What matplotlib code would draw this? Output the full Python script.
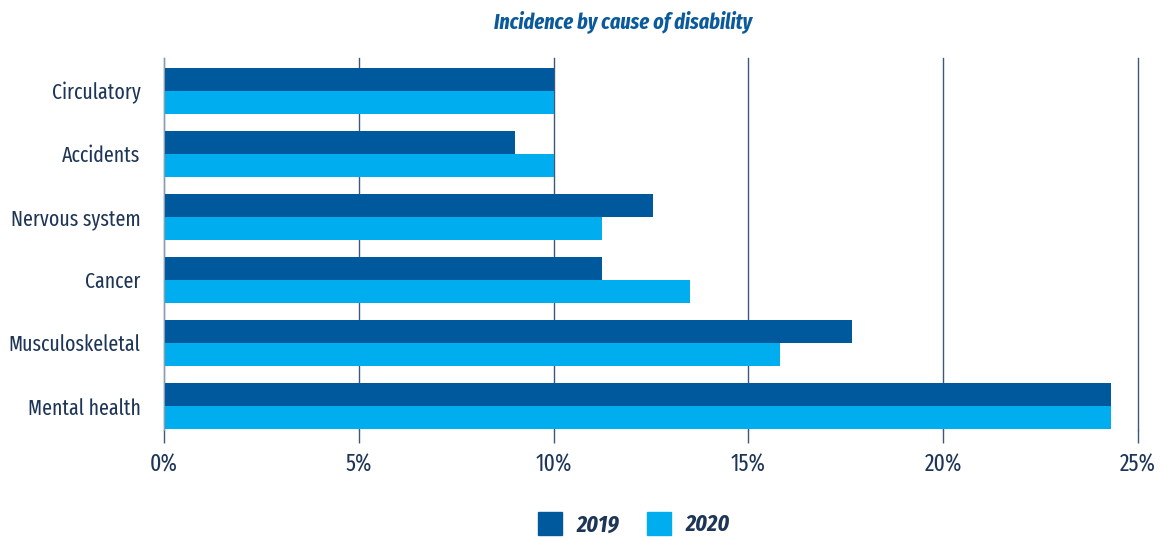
import matplotlib
matplotlib.use("Agg")
import matplotlib.pyplot as plt
import numpy as np
from matplotlib import font_manager
from matplotlib.patches import Patch

names = {f.name for f in font_manager.fontManager.ttflist}
FONT = "Fira Sans Extra Condensed" if "Fira Sans Extra Condensed" in names else "DejaVu Sans"
plt.rcParams["font.family"] = [FONT, "DejaVu Sans"]

causes = ["Mental health", "Musculoskeletal", "Cancer", "Nervous system", "Accidents", "Circulatory"]
pct_2019 = [24.3, 17.65, 11.25, 12.55, 9.0, 10.0]
pct_2020 = [24.3, 15.8, 13.5, 11.25, 10.0, 10.0]
years = ["2019", "2020"]
xticks = [0, 5, 10, 15, 20, 25]

DARK = "#00599c"
LIGHT = "#00adee"
TEXT = "#1d3557"
GRID = "#3f5878"
FS = 17

fig = plt.figure(figsize=(11.66, 5.41), dpi=100)
ax = fig.add_axes([164 / 1166, 1 - 430 / 541, (1138 - 164) / 1166, (430 - 58) / 541])

y = np.arange(len(causes))
h = 0.365
ax.barh(y + h / 2, pct_2019, height=h, color=DARK, zorder=2)
ax.barh(y - h / 2, pct_2020, height=h, color=LIGHT, zorder=2)

ax.set_xlim(0, 25)
ax.set_ylim(-0.38, 5.52)
ax.set_xticks(xticks)
ax.set_xticklabels([f"{t}%" for t in xticks], fontsize=FS, color=TEXT)
ax.set_yticks(y)
ax.set_yticklabels(causes, fontsize=15.5, color=TEXT)
ax.tick_params(axis="y", length=0, pad=17)
ax.tick_params(axis="x", length=9, width=1, color=GRID, pad=8)
ax.grid(axis="x", color=GRID, linewidth=1, zorder=1)
for line in ax.get_xgridlines():
    line.set_clip_on(False)
for s in ["top", "right", "bottom"]:
    ax.spines[s].set_visible(False)
ax.spines["left"].set_color("#8c9db3")
ax.spines["left"].set_zorder(3)

fig.text(623 / 1166, 1 - 22 / 541, "Incidence by cause of disability",
         ha="center", va="center", fontsize=15.7, fontstyle="italic",
         fontweight="bold", color="#0a5a9c")

handles = [Patch(color=DARK), Patch(color=LIGHT)]
leg = fig.legend(handles, years, loc="center", bbox_to_anchor=(634 / 1166, 1 - 524 / 541),
                 ncol=2, frameon=False, handlelength=1.0, handleheight=1.1,
                 columnspacing=1.2, handletextpad=0.6,
                 prop={"size": FS, "style": "italic", "weight": "bold"})
for t in leg.get_texts():
    t.set_color(TEXT)

fig.savefig("out.png", dpi=100)
